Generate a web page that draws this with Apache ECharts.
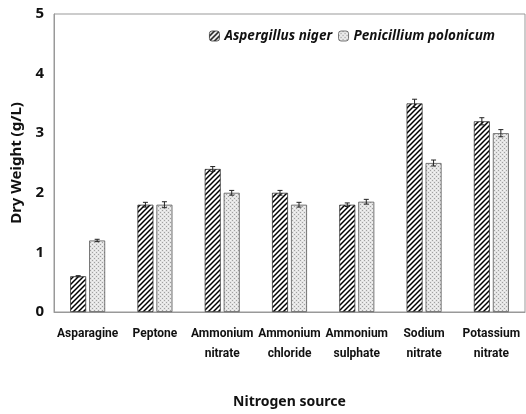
<!DOCTYPE html>
<html>
<head>
<meta charset="utf-8">
<script src="https://cdn.jsdelivr.net/npm/echarts@6/dist/echarts.min.js"></script>
<style>
  html, body { margin: 0; padding: 0; background: #fff; }
  #chart { width: 526px; height: 414px; }
</style>
</head>
<body>
<div id="chart"></div>
<script>
// nitrogen sources on the x axis
const categories = ['Asparagine', 'Peptone', 'Ammonium\nnitrate', 'Ammonium\nchloride',
  'Ammonium\nsulphate', 'Sodium\nnitrate', 'Potassium\nnitrate'];
const seriesNames = ['Aspergillus niger', 'Penicillium polonicum'];

// dry weight (g/L)
const nigerValues = [0.6, 1.8, 2.4, 2.0, 1.8, 3.5, 3.2];
const polonicumValues = [1.2, 1.8, 2.0, 1.8, 1.85, 2.5, 3.0];
// error bar half-heights
const nigerErr = [0.01, 0.04, 0.04, 0.04, 0.03, 0.07, 0.06];
const polonicumErr = [0.02, 0.05, 0.04, 0.04, 0.04, 0.05, 0.06];

const yTicks = [0, 1, 2, 3, 4, 5];

// hatch pattern: black diagonal lines
function hatchPattern() {
  const c = document.createElement('canvas');
  c.width = 5; c.height = 5;
  const ctx = c.getContext('2d');
  ctx.fillStyle = '#fff';
  ctx.fillRect(0, 0, 5, 5);
  ctx.strokeStyle = '#000';
  ctx.lineWidth = 1.5;
  ctx.beginPath();
  ctx.moveTo(-1, 6); ctx.lineTo(6, -1);
  ctx.moveTo(-1, 1); ctx.lineTo(1, -1);
  ctx.moveTo(4, 6); ctx.lineTo(6, 4);
  ctx.stroke();
  return c;
}

// dotted pattern: light grey speckles
function dotPattern() {
  const c = document.createElement('canvas');
  c.width = 4; c.height = 4;
  const ctx = c.getContext('2d');
  ctx.fillStyle = '#e4e4e4';
  ctx.fillRect(0, 0, 4, 4);
  ctx.fillStyle = '#a0a0a0';
  ctx.fillRect(0, 0, 1, 1);
  ctx.fillRect(2, 2, 1, 1);
  ctx.fillStyle = '#f4f4f4';
  ctx.fillRect(2, 0, 1, 1);
  ctx.fillRect(0, 2, 1, 1);
  return c;
}

const hatch = { image: hatchPattern(), repeat: 'repeat' };
const dots = { image: dotPattern(), repeat: 'repeat' };

const BAR_W = 16;
const GAP = 3;

function errorSeries(values, errs, offset) {
  return {
    type: 'custom',
    z: 5,
    silent: true,
    data: values.map((v, i) => [i, v, errs[i]]),
    renderItem: function (params, api) {
      const i = api.value(0);
      const v = api.value(1);
      const e = api.value(2);
      const top = api.coord([i, v + e]);
      const bot = api.coord([i, v - e]);
      const x = top[0] + offset;
      const hw = 2.5;
      return {
        type: 'group',
        children: [
          { type: 'line', shape: { x1: x, y1: top[1], x2: x, y2: bot[1] }, style: { stroke: '#222', lineWidth: 1 } },
          { type: 'line', shape: { x1: x - hw, y1: top[1], x2: x + hw, y2: top[1] }, style: { stroke: '#222', lineWidth: 1 } },
          { type: 'line', shape: { x1: x - hw, y1: bot[1], x2: x + hw, y2: bot[1] }, style: { stroke: '#222', lineWidth: 1 } }
        ]
      };
    }
  };
}

const chart = echarts.init(document.getElementById('chart'));
const font = '"Noto Sans", sans-serif';
const labelFont = 'Roboto, "Noto Sans", sans-serif';

chart.setOption({
  animation: false,
  backgroundColor: '#fff',
  grid: {
    left: 54, right: 1, top: 14, bottom: 102,
    outerBoundsMode: 'none',
    show: true, borderColor: '#999', borderWidth: 1
  },
  legend: {
    top: 24,
    right: 26,
    itemWidth: 10,
    itemHeight: 10,
    itemGap: 6,
    textStyle: { fontFamily: font, fontSize: 13.5, fontWeight: 'bold', fontStyle: 'italic', color: '#111' },
    data: [
      { name: seriesNames[0], itemStyle: { color: hatch, borderColor: '#333', borderWidth: 0.8 } },
      { name: seriesNames[1], itemStyle: { color: dots, borderColor: '#555', borderWidth: 0.8 } }
    ]
  },
  xAxis: {
    type: 'category',
    data: categories,
    name: 'Nitrogen source',
    nameLocation: 'middle',
    nameGap: 83,
    nameTextStyle: { fontFamily: font, fontSize: 14, fontWeight: 'bold', color: '#111' },
    axisLine: { lineStyle: { color: '#999' } },
    axisTick: { show: false },
    axisLabel: { fontFamily: labelFont, fontSize: 12, fontWeight: 'bold', color: '#111', margin: 12, lineHeight: 20, interval: 0 }
  },
  yAxis: {
    type: 'value',
    min: yTicks[0],
    max: yTicks[yTicks.length - 1],
    interval: 1,
    name: 'Dry Weight (g/L)',
    nameLocation: 'middle',
    nameGap: 30,
    nameTextStyle: { fontFamily: font, fontSize: 15, fontWeight: 'bold', color: '#111' },
    axisLine: { show: true, lineStyle: { color: '#999' } },
    axisTick: { show: false },
    splitLine: { show: false },
    axisLabel: { fontFamily: font, fontSize: 15, fontWeight: 'bold', color: '#111', margin: 10 }
  },
  series: [
    {
      name: seriesNames[0],
      type: 'bar',
      barWidth: BAR_W,
      barGap: (GAP / BAR_W * 100) + '%',
      data: nigerValues,
      itemStyle: { color: hatch, borderColor: '#333', borderWidth: 0.8 }
    },
    {
      name: seriesNames[1],
      type: 'bar',
      barWidth: BAR_W,
      data: polonicumValues,
      itemStyle: { color: dots, borderColor: '#555', borderWidth: 0.8 }
    },
    errorSeries(nigerValues, nigerErr, -(BAR_W + GAP) / 2),
    errorSeries(polonicumValues, polonicumErr, (BAR_W + GAP) / 2)
  ]
});
</script>
</body>
</html>
